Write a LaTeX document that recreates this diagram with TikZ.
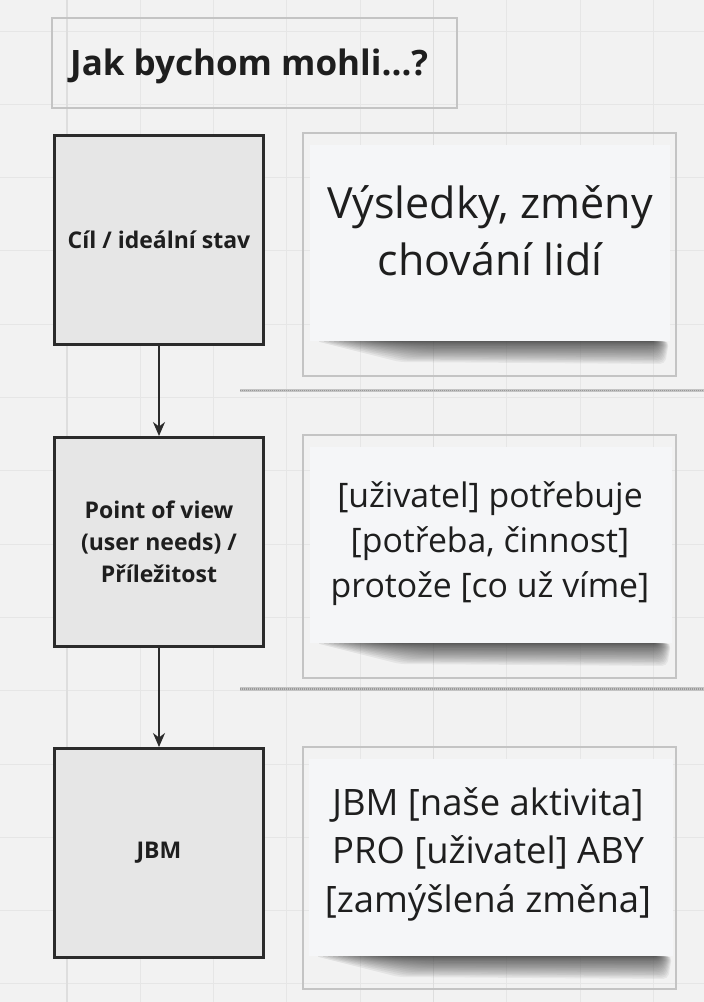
\documentclass[tikz,border=0pt]{standalone}
\usepackage{fontspec}
\setmainfont{Open Sans}
\usetikzlibrary{arrows.meta}
\definecolor{bg}{HTML}{F2F2F2}
\definecolor{gridc}{HTML}{E6E6E6}
\definecolor{gridm}{HTML}{DEDEDE}
\definecolor{frame}{HTML}{C4C4C4}
\definecolor{boxfill}{HTML}{E6E6E6}
\definecolor{boxline}{HTML}{2B2B2B}
\definecolor{note}{HTML}{F5F6F8}
\definecolor{txt}{HTML}{1E1E1E}
\definecolor{shade}{HTML}{404040}
\tikzset{
  stepbox/.style={draw=boxline, line width=3pt, fill=boxfill, minimum width=209pt, minimum height=209pt, inner sep=0pt, align=center, text=txt, font=\bfseries\fontsize{23}{32}\selectfont},
  framebox/.style={draw=frame, line width=2pt, inner sep=0pt},
  notebox/.style={fill=note, inner sep=0pt},
  notetext/.style={align=center, text=txt, inner sep=0pt},
  flow/.style={draw=boxline, line width=2pt, -{Stealth[length=14pt,width=12pt]}},
  sep/.style={draw=frame, line width=3.5pt},
  sepdot/.style={draw=gray!80, line width=1.5pt, dash pattern=on 1pt off 1pt}
}
\newcommand{\noteshadow}[3]{% left x, right x, bottom y
  \foreach \i in {0,...,15}{
    \fill[shade, opacity=0.05, rounded corners=5pt]
      ({#1+6+\i*5}, #3) -- ({#2-1-\i*0.9}, #3) -- ({#2-5-\i*1.2}, {#3+23-\i*1.35})
      -- ({#1+90+\i*3}, {#3+21-\i*1.25}) -- cycle;
  }
}
\begin{document}
\begin{tikzpicture}[x=1pt,y=-1pt]
\fill[bg] (0,0) rectangle (704,1002);
\useasboundingbox (0,0) rectangle (704,1002);
% grid
\foreach \k in {-1,...,9}{
  \draw[gridc, line width=1pt] ({67+73.3*\k},0) -- ({67+73.3*\k},1002);
}
\foreach \k in {0,...,13}{
  \draw[gridc, line width=1pt] (0,{31+73.3*\k}) -- (704,{31+73.3*\k});
}
\draw[gridm, line width=1.2pt] (67,0) -- (67,1002);
\draw[gridm, line width=1.2pt] (433.5,0) -- (433.5,1002);

% title
\node[framebox, minimum width=405pt, minimum height=90pt] (title) at (254.5,63) {};
\node[anchor=west, text=txt, font=\bfseries\fontsize{35}{42}\selectfont, inner sep=0pt] (titletext) at (70,66) {Jak bychom mohli…?};

% left boxes
\node[stepbox] (b1) at (159,240) {Cíl / ideální stav};
\node[stepbox] (b2) at (159,542) {Point of view\\(user needs) /\\Příležitost};
\node[stepbox] (b3) at (159,853) {JBM};
\draw[flow] (b1.south) -- (b2.north);
\draw[flow] (b2.south) -- (b3.north);

% separators
\coordinate (s1a) at (240,390.5); \coordinate (s1b) at (704,390.5);
\coordinate (s2a) at (240,689); \coordinate (s2b) at (704,689);
\draw[sep] (s1a) -- (s1b); \draw[sepdot] (s1a) -- (s1b);
\draw[sep] (s2a) -- (s2b); \draw[sepdot] (s2a) -- (s2b);

% right frames
\node[framebox, minimum width=373pt, minimum height=243pt] (f1) at (489.5,254.5) {};
\node[framebox, minimum width=373pt, minimum height=243pt] (f2) at (489.5,556.5) {};
\node[framebox, minimum width=373pt, minimum height=242pt] (f3) at (489.5,867.5) {};

% shadows + notes
\noteshadow{310}{670}{341}
\node[notebox, minimum width=360pt, minimum height=196pt] (n1) at (490,243) {};
\noteshadow{310}{672}{643}
\node[notebox, minimum width=362pt, minimum height=196pt] (n2) at (491,545) {};
\noteshadow{309}{673}{956}
\node[notebox, minimum width=364pt, minimum height=197pt] (n3) at (491,857.5) {};

\node[notetext, font=\fontsize{43}{57}\selectfont] (t1) at (490,231) {Výsledky, změny\\chování lidí};
\node[notetext, font=\fontsize{33.8}{45}\selectfont] (t2) at (490,544) {{[uživatel]} potřebuje\\{[potřeba, činnost]}\\protože {[co už víme]}};
\node[notetext, font=\fontsize{36.4}{48.5}\selectfont] (t3) at (488,854) {JBM {[naše aktivita]}\\PRO {[uživatel]} ABY\\{[zamýšlená změna]}};
\end{tikzpicture}
\end{document}
